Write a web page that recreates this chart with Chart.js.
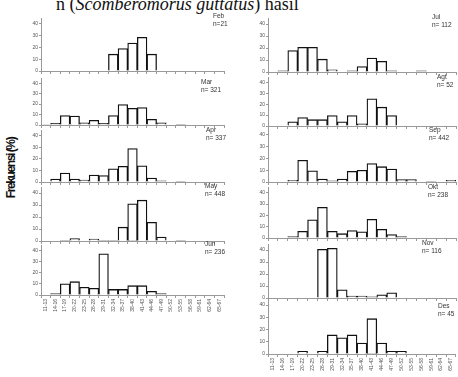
<!DOCTYPE html>
<html><head><meta charset="utf-8">
<script src="https://cdn.jsdelivr.net/npm/chart.js@4.4.1/dist/chart.umd.min.js"></script>
<style>
html,body{margin:0;padding:0;background:#fff;}
body{width:458px;height:377px;position:relative;overflow:hidden;}
canvas{position:absolute;z-index:1;}
.lbl{position:absolute;z-index:5;font-family:"Liberation Sans",Arial,sans-serif;font-size:6.5px;line-height:7.5px;color:#333;white-space:pre;}
#cap{position:absolute;left:56px;top:-6px;font-family:"Liberation Serif","DejaVu Serif",serif;font-size:18px;color:#111;white-space:nowrap;}
#ytitle{position:absolute;left:-24px;top:161px;width:70px;text-align:center;font-family:"Liberation Sans",Arial,sans-serif;font-weight:bold;font-size:12px;letter-spacing:-1.4px;color:#111;transform:rotate(-90deg);white-space:nowrap;}
</style></head>
<body>
<div id="cap">n (<i>Scomberomorus guttatus</i>) hasil</div>
<div id="ytitle">Frekuensi (%)</div>
<script>
const categories = ['11-13','14-16','17-19','20-22','23-25','26-28','29-31','32-34','35-37','38-40','41-43','44-46','47-49','50-52','53-55','56-58','59-61','62-64','65-67'];
const yTicks = [0,5,10,15,20,25,30,35,40,45];

const feb = [0,0,0,0,0,0,0,14.3,19,23.8,28.6,14.3,0,0,0,0,0,0,0];
const mar = [0.5,1.5,9,8.5,2,4.5,1.5,9,19.5,16,16.7,5.5,2,0,0.6,0,0,0,0];
const apr = [0,2.5,7.8,2.6,1.7,6,5.5,11.5,13.5,29,14,3.5,1,0,0.3,0,0,0,0];
const may = [0,0,0.3,2,0,1.7,0.6,0.6,11.5,31,34,15.6,3.3,0,0.5,0,0,0,0];
const jun = [0,1.2,10,12,7,6,37,5,5,8.4,8.4,3.3,1.2,0,0,0,0,0,0];
const jul = [0,0.9,17.9,20.5,20.5,10.7,1.8,0,0.9,4.5,11.6,8.9,0.9,0,0,0.9,0,0,0];
const agt = [0,0,3.8,7.7,5.8,5.8,9.6,3.8,9.6,1.9,25,17.3,9.6,0,0,0,0,0,0];
const sep = [0,0,1.5,18.5,9.5,2.5,1,2.5,9,10,15.6,13,11,2,2,0,0.3,0,1.5];
const okt = [0,0,1.2,5.9,16,27,5.9,3.8,6.5,5.5,16.5,7.6,3,1.2,0,0,0,0,0];
const nov = [0,0,0,0,0,40.5,41.4,6.9,1.7,1.7,0.9,2.6,4.3,0,0,0,0,0,0];
const des = [0,0,0,2.2,0,2.2,15.6,13.3,15.6,8.9,28.9,8.9,2.2,2.2,0,0,0,0,0];

const monthNames = ['Feb','Mar','Apr','May','Jun','Jul','Agt','Sep','Okt','Nov','Des'];
const sampleSizes = ['n=21','n= 321','n= 337','n= 448','n= 236','n= 112','n= 52','n= 442','n= 238','n= 116','n= 45'];
const series = [feb,mar,apr,may,jun,jul,agt,sep,okt,nov,des];

// layout: [canvasLeft, canvasWidth, yAxisWidth, padRight, plotTop, plotBottom, bottomPanel, labelX, labelY]
const layout = [
  [0,236,41,12, 18, 71,false,213,12],
  [0,236,41,12, 78,125,false,201,78],
  [0,236,41,12,130,182,false,206,126],
  [0,236,41,12,187,241,false,205,182],
  [0,236,41,12,245,295,true ,205,240],
  [228,230,40,2, 18, 72,false,432,13],
  [228,230,40,2, 77,126,false,437,73],
  [228,230,40,2,129,182,false,429,126],
  [228,230,40,2,187,238,false,428,183],
  [228,230,40,2,244,298,false,422,239],
  [228,230,40,2,299,354,true ,438,302]
];

const PADTOP = 5;
series.forEach((vals, i) => {
  const [cl, cw, yw, pr, pt, pb, bottom, lx, ly] = layout[i];
  const hx = bottom ? 22 : 4;
  const ch = PADTOP + (pb - pt) + hx;
  const cv = document.createElement('canvas');
  cv.width = cw; cv.height = ch;
  cv.style.left = cl + 'px'; cv.style.top = (pt - PADTOP) + 'px';
  cv.style.width = cw + 'px'; cv.style.height = ch + 'px';
  document.body.appendChild(cv);

  new Chart(cv, {
    type: 'bar',
    data: {
      labels: categories,
      datasets: [{
        data: vals,
        backgroundColor: '#ffffff',
        borderColor: '#111111',
        borderWidth: 1.3,
        barPercentage: 1,
        categoryPercentage: 1
      }]
    },
    options: {
      responsive: false,
      devicePixelRatio: 1,
      animation: false,
      layout: { autoPadding: false, padding: { left: 0, right: pr, top: PADTOP, bottom: 0 } },
      plugins: { legend: { display: false }, tooltip: { enabled: false } },
      scales: {
        x: {
          grid: { display: true, drawOnChartArea: false, drawTicks: true, tickLength: 3, color: '#999', offset: true },
          border: { display: true, color: '#999', width: 1 },
          ticks: {
            display: bottom,
            autoSkip: false,
            minRotation: 90, maxRotation: 90,
            padding: 1,
            color: '#555',
            font: { size: 5, family: 'Liberation Sans' }
          },
          afterFit: s => { s.height = hx; }
        },
        y: {
          min: 0, max: 45,
          afterBuildTicks: s => { s.ticks = yTicks.map(v => ({ value: v })); },
          grid: { display: true, drawOnChartArea: false, drawTicks: true, tickLength: 2, color: '#999' },
          border: { display: true, color: '#999', width: 1 },
          ticks: { padding: 1, color: '#555', font: { size: 5, family: 'Liberation Sans' } },
          afterFit: s => { s.width = yw; }
        }
      }
    }
  });

  const d = document.createElement('div');
  d.className = 'lbl';
  d.style.left = lx + 'px'; d.style.top = ly + 'px';
  d.textContent = monthNames[i] + '\n' + sampleSizes[i];
  document.body.appendChild(d);
});
</script>
</body></html>
